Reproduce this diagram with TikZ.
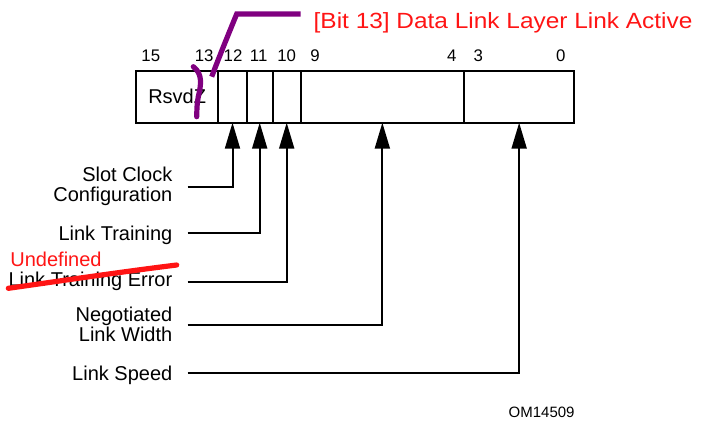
\documentclass[tikz,border=0pt]{standalone}
\usepackage{fontspec}
\setmainfont{Liberation Sans}
\newfontfamily\redfont[FakeStretch=1.11]{Liberation Sans}
\usetikzlibrary{arrows.meta}
\definecolor{mypurple}{RGB}{128,0,128}
\definecolor{myred}{RGB}{255,20,20}
\tikzset{
  field/.style={draw, line width=1pt, inner sep=0pt, outer sep=0pt, minimum height=26pt},
  bitnum/.style={anchor=base, inner sep=0pt, font=\fontsize{8.4}{8.4}\selectfont},
  lbl/.style={anchor=base east, inner sep=0pt, align=right, font=\fontsize{10}{10}\selectfont},
  conn/.style={line width=1pt, -{Triangle[length=13pt,width=7.5pt]}},
  markpen/.style={line width=2.6pt},
}
\begin{document}
\begin{tikzpicture}[x=0.5pt,y=-0.5pt]
\useasboundingbox (0,0) rectangle (701,423);
% register fields
\node[field, minimum width=41.15pt, font=\fontsize{10}{10}\selectfont] (rsvd) at (177.15,96.7) {RsvdZ};
\node[field, minimum width=14.2pt] (b12) at (232.5,96.7) {};
\node[field, minimum width=13pt] (b11) at (259.7,96.7) {};
\node[field, minimum width=14pt] (b10) at (286.7,96.7) {};
\node[field, minimum width=81.65pt] (b94) at (382.35,96.7) {};
\node[field, minimum width=55.15pt] (b30) at (519.15,96.7) {};
% bit numbers
\node[bitnum] (n15) at (150.8,61.7) {15};
\node[bitnum] (n13) at (204.2,61.7) {13};
\node[bitnum] (n12) at (233,61.7) {12};
\node[bitnum] (n11) at (258.7,61.7) {11};
\node[bitnum] (n10) at (286.7,61.7) {10};
\node[bitnum] (n9) at (315,61.7) {9};
\node[bitnum] (n4) at (451.7,61.7) {4};
\node[bitnum] (n3) at (478.3,61.7) {3};
\node[bitnum] (n0) at (560.8,61.7) {0};
% labels (multi-line nodes: base = last line)
\node[lbl] (slot) at (172.7,201.7) {Slot Clock\\Configuration};
\node[lbl] (lt) at (172.7,240) {Link Training};
\node[lbl] (lte) at (172.7,286.7) {Link Training Error};
\node[lbl] (neg) at (172.7,341.7) {Negotiated\\Link Width};
\node[lbl] (ls) at (172.7,380) {Link Speed};
% connector start points
\coordinate (slotc) at (187.5,186.7);
\coordinate (ltc) at (187.5,233.3);
\coordinate (ltec) at (187.5,281.7);
\coordinate (negc) at (187.5,325);
\coordinate (lsc) at (187.5,373.3);
\draw[conn] (slotc) -| (b12.south);
\draw[conn] (ltc) -| (b11.south);
\draw[conn] (ltec) -| (b10.south);
\draw[conn] (negc) -| (b94.south);
\draw[conn] (lsc) -| (b30.south);
% figure id
\node[anchor=base west, inner sep=0pt, font=\fontsize{7.5}{7.5}\selectfont] (om) at (508.3,417.3) {OM14509};
% annotations
\node[anchor=base west, inner sep=0pt, text=myred, font=\redfont\fontsize{11}{11}\selectfont] (bit13) at (313.3,28.3) {[Bit 13] Data Link Layer Link Active};
\node[anchor=base west, inner sep=0pt, text=myred, font=\fontsize{10}{10}\selectfont] (undef) at (10,266.7) {Undefined};
\coordinate (pstart) at (300.7,14);
\draw[markpen, mypurple] (pstart) -- (236.7,14) .. controls (226,40) and (218,60) .. (211.7,76.7);
\draw[markpen, mypurple, line cap=round] (193.3,66.7) .. controls (203,74) and (201,85) .. (198.3,96.7) .. controls (197,105) .. (196.7,116.7);
\draw[markpen, myred, line cap=round] (8.3,288.3) .. controls (60,281) and (120,272) .. (176.7,265);
\end{tikzpicture}
\end{document}
